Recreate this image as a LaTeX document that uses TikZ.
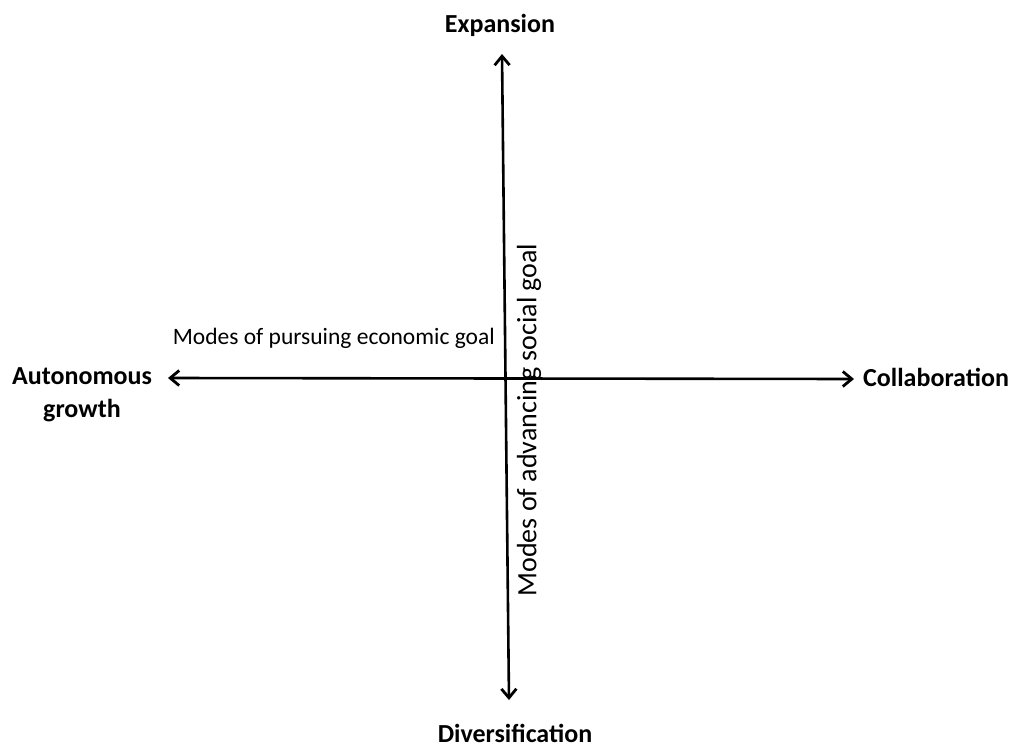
\documentclass[tikz,border=0pt]{standalone}
\usepackage{fontspec}
\setmainfont{Carlito}
\usetikzlibrary{arrows.meta}
\begin{document}
\begin{tikzpicture}[x=1pt,y=-1pt,
  pole/.style={font=\fontsize{26}{33}\selectfont\bfseries, inner sep=0pt, align=center},
  axislabel/.style={font=\fontsize{23.5}{28}\selectfont, inner sep=0pt},
  axis/.style={line width=2.6pt, {Straight Barb[length=9pt,width=15pt,line width=2.8pt]}-{Straight Barb[length=9pt,width=15pt,line width=2.8pt]}}]
\useasboundingbox (0,0) rectangle (1013,747);
\node[pole] (exp) at (500,25) {Expansion};
\node[pole] (div) at (515,733) {Diversification};
\node[pole] (auto) at (82,395) {Autonomous\\growth};
\node[pole, anchor=west] (coll) at (863,377) {Collaboration};
\coordinate (top) at (502,54);
\coordinate (bot) at (509,700);
\coordinate (left) at (168,378);
\coordinate (right) at (854,379);
\draw[axis] (top) -- (bot);
\draw[axis] (left) -- (right);
\node[axislabel, anchor=east] (econ) at (495,338) {Modes of pursuing economic goal};
\node[axislabel, font=\fontsize{28}{32}\selectfont, rotate=90] (soc) at (529,420) {Modes of advancing social goal};
\end{tikzpicture}
\end{document}
